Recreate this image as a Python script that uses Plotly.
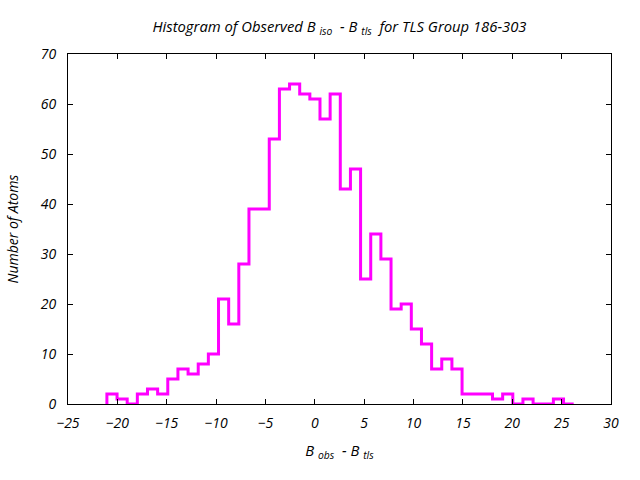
import numpy as np
import plotly.graph_objects as go

# Histogram data
bin_start = -21.06
bin_end = 26.22
counts = [2, 1, 0, 2, 3, 2, 5, 7, 6, 8, 10, 21, 16, 28, 39, 39, 53, 63, 64, 62,
          61, 57, 62, 43, 47, 25, 34, 29, 19, 20, 15, 12, 7, 9, 7, 2, 2, 2, 1, 2,
          0, 1, 0, 0, 1, 0]
x_ticks = [-25, -20, -15, -10, -5, 0, 5, 10, 15, 20, 25, 30]
y_ticks = [0, 10, 20, 30, 40, 50, 60, 70]

edges = np.linspace(bin_start, bin_end, len(counts) + 1)
xs = [edges[0]] + list(edges)
ys = [0] + list(counts) + [0]

font_family = "Open Sans"
fsize = 14

fig = go.Figure()
fig.add_trace(go.Scatter(
    x=xs, y=ys, mode="lines", line=dict(color="#ff00ff", width=3, shape="hv"),
    showlegend=False, hoverinfo="skip",
))

axis_common = dict(
    showgrid=False, zeroline=False, showline=True, linecolor="black", linewidth=1,
    mirror="allticks", ticks="inside", ticklen=5, tickcolor="black", tickwidth=1,
    tickfont=dict(family=font_family, size=fsize, color="black", style="italic"),
)

fig.update_layout(
    width=640, height=480,
    margin=dict(l=68, r=29, t=54, b=76),
    paper_bgcolor="white", plot_bgcolor="white",
    title=dict(
        text="Histogram of Observed B <sub>iso</sub>  - B <sub>tls</sub>  for TLS Group 186-303",
        x=0.5, xref="paper", xanchor="center",
        y=1 - 27 / 480, yref="container", yanchor="middle",
        font=dict(family=font_family, size=14.8, color="black", style="italic"),
    ),
    xaxis=dict(range=[-25, 30], tickvals=x_ticks, ticklabelstandoff=6,
               title=dict(text="B <sub>obs</sub>  - B <sub>tls</sub>", standoff=14,
                          font=dict(family=font_family, size=14.8, color="black", style="italic")),
               **axis_common),
    yaxis=dict(range=[0, 70], tickvals=y_ticks, ticklabelstandoff=8,
               title=dict(text="Number of Atoms", standoff=18,
                          font=dict(family=font_family, size=fsize, color="black", style="italic")),
               **axis_common),
)

fig.write_html("out.html")
